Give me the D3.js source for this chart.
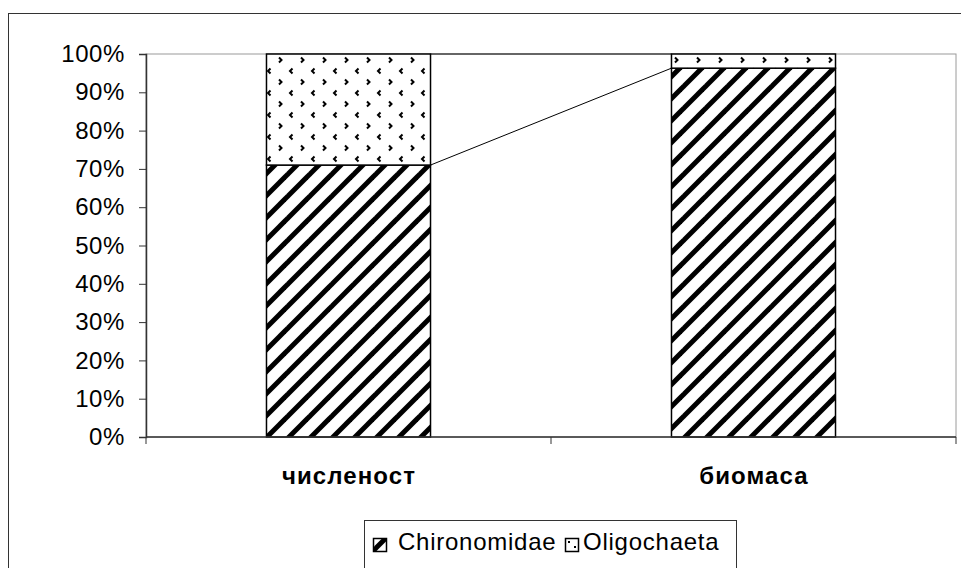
<!DOCTYPE html>
<html><head><meta charset="utf-8">
<script src="https://cdn.jsdelivr.net/npm/d3@7"></script>
<style>body{margin:0;background:#fff}svg{display:block;font-family:"Liberation Sans",Arial,sans-serif}</style>
</head><body><svg id="c" width="961" height="568"></svg>
<script>
const categories = ["численост", "биомаса"];
const seriesNames = ["Chironomidae", "Oligochaeta"];
const chironomidae = [71, 96.3];
const oligochaeta = [29, 3.7];
const tickLabels = ["0%","10%","20%","30%","40%","50%","60%","70%","80%","90%","100%"];

const svg = d3.select("#c");
const defs = svg.append("defs");
const stripe = defs.append("pattern").attr("id","pStripe").attr("patternUnits","userSpaceOnUse")
  .attr("width",22).attr("height",22);
stripe.append("rect").attr("width",22).attr("height",22).attr("fill","#fff");
[-22,0,22].forEach(o=>{
  stripe.append("line").attr("x1",o-2).attr("y1",24).attr("x2",o+24).attr("y2",-2)
    .attr("stroke","#000").attr("stroke-width",5);
});
const dots = defs.append("pattern").attr("id","pDots").attr("patternUnits","userSpaceOnUse")
  .attr("width",22).attr("height",22);
dots.append("rect").attr("width",22).attr("height",22).attr("fill","#fff");
dots.append("path").attr("d","M6.5,2.5 L4,5 L6.5,7.5").attr("fill","none").attr("stroke","#000").attr("stroke-width",2);
dots.append("path").attr("d","M15,13.5 L17.5,16 L15,18.5").attr("fill","none").attr("stroke","#000").attr("stroke-width",2);

// outer border
svg.append("rect").attr("x",8.5).attr("y",13.5).attr("width",970).attr("height",600)
  .attr("fill","none").attr("stroke","#333").attr("stroke-width",1);

const x = d3.scaleBand().domain(categories).range([146,956]).paddingInner(0.595).paddingOuter(0.2975);
const y = d3.scaleLinear().domain([0,100]).range([437,54]);

// plot border (gray)
svg.append("rect").attr("x",146).attr("y",54).attr("width",810).attr("height",383)
  .attr("fill","none").attr("stroke","#9a9a9a").attr("stroke-width",1);

const stack = d3.stack().keys([0,1]).value((d,k)=>d[k]);
const rows = categories.map((c,i)=>[chironomidae[i], oligochaeta[i]]);
const layers = stack(rows);
const fills = ["url(#pStripe)","url(#pDots)"];
layers.forEach((layer,li)=>{
  svg.append("g").selectAll("rect").data(layer).join("rect")
    .attr("x",(d,i)=>x(categories[i])).attr("width",x.bandwidth())
    .attr("y",d=>y(d[1])).attr("height",d=>y(d[0])-y(d[1]))
    .attr("fill",fills[li]).attr("stroke","#000").attr("stroke-width",1.5);
});
// series lines
layers.forEach(layer=>{
  svg.append("line")
    .attr("x1",x(categories[0])+x.bandwidth()).attr("y1",y(layer[0][1]))
    .attr("x2",x(categories[1])).attr("y2",y(layer[1][1]))
    .attr("stroke","#000").attr("stroke-width",1);
});

// y axis
const yAxis = d3.axisLeft(y).tickValues(d3.range(0,101,10)).tickFormat((d,i)=>tickLabels[i]).tickSize(7).tickPadding(14);
const gy = svg.append("g").attr("transform","translate(146,0)").call(yAxis);
gy.select(".domain").attr("stroke","#333").attr("stroke-width",1.5);
gy.selectAll(".tick line").attr("stroke","#333");
gy.selectAll("text").attr("font-size",24).attr("font-family","Liberation Sans, Arial").attr("fill","#000")
  .attr("letter-spacing",0.6);

// x axis line and ticks
svg.append("line").attr("x1",146).attr("x2",956).attr("y1",437).attr("y2",437).attr("stroke","#333").attr("stroke-width",1.5);
const step = x.step();
d3.range(0,categories.length+1).forEach(i=>{
  const xx = 146 + i*step;
  svg.append("line").attr("x1",xx).attr("x2",xx).attr("y1",437).attr("y2",444).attr("stroke","#333");
});
svg.append("g").selectAll("text").data(categories).join("text")
  .attr("x",d=>x(d)+x.bandwidth()/2+0.5).attr("y",484).attr("text-anchor","middle")
  .attr("font-size",24).attr("font-weight","bold").attr("letter-spacing",1.1).text(d=>d);

// legend
const lg = svg.append("g");
lg.append("rect").attr("x",364.5).attr("y",520.5).attr("width",372).attr("height",60)
  .attr("fill","#fff").attr("stroke","#333");
const lx = [373, 565];
seriesNames.forEach((n,i)=>{
  lg.append("rect").attr("x",lx[i]+0.5).attr("y",538.5).attr("width",13).attr("height",13)
    .attr("fill", i===0 ? "url(#pStripe)" : "#fff").attr("stroke","#000").attr("stroke-width",1.5);
  if(i===1){
    lg.append("rect").attr("x",lx[i]+3).attr("y",541).attr("width",2).attr("height",2).attr("fill","#000");
    lg.append("rect").attr("x",lx[i]+9).attr("y",546).attr("width",2).attr("height",2).attr("fill","#000");
  }
  lg.append("text").attr("x",lx[i]+(i===0?25:18)).attr("y",550).attr("font-size",24)
    .attr("letter-spacing",0.75).text(n);
});
</script></body></html>
